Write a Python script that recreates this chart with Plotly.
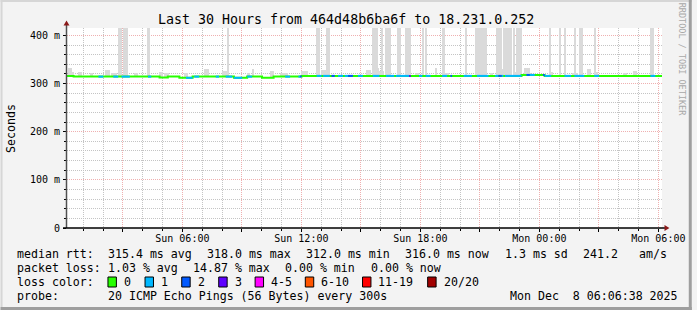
import plotly.graph_objects as go
import pandas as pd

# ---------------- data ----------------
N_POINTS = 360                      # 30 h at 300 s steps
STEP_S = 300
START = pd.Timestamp("2025-12-07 00:11:00")
END = START + pd.Timedelta(hours=30)

# median rtt in ms: (first sample index, value)
median_runs = [(0, 316.0), (4, 314.5), (56, 312.5), (61, 314.5), (68, 312.0),
               (76, 314.5), (101, 312.0), (109, 314.5), (118, 312.0), (125, 314.5),
               (142, 316.0), (275, 318.0), (289, 316.0)]

# lost pings: (first index, last index, lost count)
loss_runs = [(19, 21, 1), (28, 30, 1), (33, 37, 1), (49, 50, 1), (72, 75, 1), (77, 79, 1),
             (90, 91, 1), (96, 99, 1), (101, 105, 1), (109, 111, 1), (132, 134, 1),
             (140, 140, 1), (141, 141, 2), (151, 153, 1), (155, 158, 1), (160, 161, 2),
             (164, 166, 1), (168, 169, 1), (170, 172, 2), (176, 178, 1), (185, 188, 1),
             (193, 197, 1), (199, 206, 1), (207, 207, 3), (213, 214, 1), (217, 219, 1),
             (227, 229, 1), (232, 232, 2), (240, 244, 1), (248, 254, 1), (259, 260, 1),
             (261, 262, 2), (263, 263, 1), (265, 274, 1), (278, 279, 2), (280, 282, 1),
             (288, 288, 2), (289, 292, 1), (301, 304, 1), (307, 309, 1), (310, 312, 1),
             (319, 321, 1), (353, 355, 1)]

# smoke (max ping) in ms: (first index, last index, top)
smoke_runs = [(1, 2, 333), (3, 3, 325), (7, 8, 325), (14, 15, 323), (23, 25, 328),
              (27, 29, 322), (31, 32, 480), (34, 36, 480), (41, 42, 322), (49, 49, 480),
              (56, 57, 325), (59, 61, 323), (71, 72, 322), (83, 85, 330), (94, 96, 327),
              (97, 97, 480), (109, 110, 322), (112, 112, 330), (123, 124, 327),
              (129, 133, 322), (142, 145, 326), (151, 152, 480), (154, 156, 328),
              (157, 158, 480), (181, 183, 328), (185, 187, 480), (188, 188, 332),
              (189, 189, 326), (190, 190, 480), (191, 191, 326), (193, 195, 480),
              (200, 201, 480), (205, 207, 480), (211, 212, 322), (215, 215, 480),
              (217, 217, 480), (223, 223, 332), (227, 228, 480), (229, 230, 322),
              (241, 241, 480), (247, 253, 480), (256, 257, 322), (260, 262, 480),
              (263, 263, 330), (264, 268, 480), (270, 270, 480), (271, 271, 325),
              (272, 274, 480), (277, 279, 332), (280, 280, 322), (292, 292, 480),
              (293, 293, 325), (298, 298, 480), (301, 301, 480), (306, 306, 323),
              (307, 307, 480), (308, 308, 323), (310, 311, 480), (315, 316, 330),
              (319, 319, 480), (320, 320, 325), (337, 338, 322), (343, 344, 327),
              (353, 354, 480)]

loss_labels = ["0", "1", "2", "3", "4-5", "6-10", "11-19", "20/20"]
loss_colors = ["#26ff00", "#00b8ff", "#0059ff", "#5e00ff", "#ff00ff", "#ff5500", "#ff0000", "#a10000"]

y_tick_vals = [0, 100, 200, 300, 400]
y_tick_text = ["0", "100 m", "200 m", "300 m", "400 m"]

title_text = "Last 30 Hours from 464d48b6ba6f to 18.231.0.252"
row_median = [("median rtt:", 16), ("315.4 ms avg", 107.3), ("318.0 ms max", 207.3),
              ("312.0 ms min", 307.3), ("316.0 ms now", 407.3), ("1.3 ms sd", 507.3),
              ("241.2", 586.7), ("am/s", 642.3)]
row_loss = [("packet loss:", 16), ("1.03 % avg", 107.3), ("14.87 % max", 193.3),
            ("0.00 % min", 285.6), ("0.00 % now", 372.3)]
row_probe = [("probe:", 16), ("20 ICMP Echo Pings (56 Bytes) every 300s", 107.3),
             ("Mon Dec  8 06:06:38 2025", 512.7)]
legend_box_x = [108.3, 145.7, 182.7, 220.0, 256.7, 307.3, 365.0, 430.7]

# ---------------- expand runs to per-sample arrays ----------------
times = [START + pd.Timedelta(seconds=STEP_S * i) for i in range(N_POINTS + 1)]
median = [None] * N_POINTS
bounds = [r[0] for r in median_runs] + [N_POINTS]
for k, (s, v) in enumerate(median_runs):
    for i in range(s, bounds[k + 1]):
        median[i] = v
loss = [0] * N_POINTS
for a, b, c in loss_runs:
    for i in range(a, b + 1):
        loss[i] = c
smoke_top = [None] * N_POINTS
for a, b, t in smoke_runs:
    for i in range(a, b + 1):
        smoke_top[i] = t


def loss_class(c):
    if c <= 3:
        return c
    if c <= 5:
        return 4
    if c <= 10:
        return 5
    if c <= 19:
        return 6
    return 7


# ---------------- geometry helpers ----------------
W, H = 697, 310
ML, MR, MT, MB = 67, 30, 28, 82
PW, PH = W - ML - MR, H - MT - MB


def fx(p):
    return (p - ML) / PW


def fy(p):
    return (MT + PH - p) / PH


MONO = "DejaVu Sans Mono"

fig = go.Figure()

# smoke
idx_s = [i for i in range(N_POINTS) if smoke_top[i] is not None]
fig.add_trace(go.Bar(x=[times[i] for i in idx_s],
                     y=[smoke_top[i] - median[i] for i in idx_s],
                     base=[median[i] for i in idx_s],
                     width=STEP_S * 1000, offset=0,
                     marker=dict(color="#dadada", line=dict(width=0)),
                     hoverinfo="skip", showlegend=False))

# median line (green base)
fig.add_trace(go.Scatter(x=times, y=median + [median[-1]], mode="lines",
                         line=dict(color=loss_colors[0], width=2, shape="hv"),
                         hoverinfo="skip", showlegend=False))

# loss-coloured segments of the median line
seg_x = {k: [] for k in range(1, 8)}
seg_y = {k: [] for k in range(1, 8)}
i = 0
while i < N_POINTS:
    if loss[i] > 0:
        cls = loss_class(loss[i])
        j = i
        while j + 1 < N_POINTS and loss[j + 1] > 0 and loss_class(loss[j + 1]) == cls:
            j += 1
        seg_x[cls] += times[i:j + 2] + [None]
        seg_y[cls] += median[i:j + 1] + [median[j], None]
        i = j + 1
    else:
        i += 1
for cls in range(1, 8):
    if seg_x[cls]:
        fig.add_trace(go.Scatter(x=seg_x[cls], y=seg_y[cls], mode="lines",
                                 line=dict(color=loss_colors[cls], width=2, shape="hv"),
                                 connectgaps=False, hoverinfo="skip", showlegend=False))

x_ticks = list(pd.date_range("2025-12-07 03:00", "2025-12-08 06:00", freq="3h"))
x_text = [t.strftime("%a %H:%M") if t.hour % 6 == 0 else "" for t in x_ticks]

fig.update_layout(
    width=W, height=H, autosize=False,
    margin=dict(l=ML, r=MR, t=MT, b=MB, pad=0),
    paper_bgcolor="#f3f3f3", plot_bgcolor="#ffffff",
    barmode="overlay", bargap=0, showlegend=False,
    font=dict(family=MONO, color="#000000"),
    xaxis=dict(type="date", range=[START, END], tickmode="array", tickvals=x_ticks,
               ticktext=x_text, showgrid=True, gridcolor="#efb0b0", griddash="1px,1px",
               gridwidth=1, ticks="outside", ticklen=3, tickcolor="#000000",
               tickfont=dict(family=MONO, size=10, color="#000000"),
               ticklabelstandoff=-2,
               showline=False, zeroline=False, fixedrange=True,
               minor=dict(dtick=3600000, tick0="2025-12-07 00:00", showgrid=True,
                          gridcolor="#c4c4c4", griddash="1px,1px", ticks="outside",
                          ticklen=2, tickcolor="#000000")),
    yaxis=dict(range=[0, 415.5], tickmode="array", tickvals=y_tick_vals,
               ticktext=y_tick_text, showgrid=True, gridcolor="#efb0b0",
               griddash="1px,1px", ticks="outside", ticklen=3, tickcolor="#000000",
               tickfont=dict(family=MONO, size=10, color="#000000"),
               showline=False, zeroline=False, fixedrange=True, ticklabelstandoff=1,
               minor=dict(dtick=20, showgrid=True, gridcolor="#c4c4c4",
                          griddash="1px,1px", ticks="outside", ticklen=2,
                          tickcolor="#000000")),
)

shapes = []
# axis lines + arrows
shapes.append(dict(type="line", xref="paper", yref="paper", x0=fx(66.5), x1=fx(66.5),
                   y0=fy(228), y1=fy(24), line=dict(color="#505050", width=1.5)))
shapes.append(dict(type="line", xref="paper", yref="paper", x0=fx(63), x1=fx(670),
                   y0=fy(228), y1=fy(228), line=dict(color="#000000", width=1.5)))
shapes.append(dict(type="path", xref="paper", yref="paper",
                   path=f"M {fx(66.5)},{fy(20.5)} L {fx(63.5)},{fy(25.5)} L {fx(69.5)},{fy(25.5)} Z",
                   fillcolor="#8b1a1a", line=dict(width=0)))
shapes.append(dict(type="path", xref="paper", yref="paper",
                   path=f"M {fx(674.5)},{fy(228)} L {fx(669.5)},{fy(225)} L {fx(669.5)},{fy(231)} Z",
                   fillcolor="#8b1a1a", line=dict(width=0)))
# frame shading
shapes.append(dict(type="rect", xref="paper", yref="paper", x0=fx(0), x1=fx(697),
                   y0=fy(0), y1=fy(2), fillcolor="#d6d6d6", line=dict(width=0), layer="above"))
shapes.append(dict(type="rect", xref="paper", yref="paper", x0=fx(0), x1=fx(2),
                   y0=fy(0), y1=fy(310), fillcolor="#d6d6d6", line=dict(width=0), layer="above"))
shapes.append(dict(type="rect", xref="paper", yref="paper", x0=fx(694), x1=fx(697),
                   y0=fy(0), y1=fy(310), fillcolor="#9e9e9e", line=dict(width=0), layer="above"))
shapes.append(dict(type="rect", xref="paper", yref="paper", x0=fx(0), x1=fx(697),
                   y0=fy(307), y1=fy(310), fillcolor="#9e9e9e", line=dict(width=0), layer="above"))
# loss colour boxes
for bx, col in zip(legend_box_x, loss_colors):
    shapes.append(dict(type="rect", xref="paper", yref="paper", x0=fx(bx), x1=fx(bx + 8.5),
                       y0=fy(287), y1=fy(277), fillcolor=col,
                       line=dict(color="#000000", width=1)))
fig.update_layout(shapes=shapes)

ann = []


def text(t, x, y, size=11.6, anchor="left", angle=0, color="#000000"):
    ann.append(dict(text=t, x=fx(x), y=fy(y), xref="paper", yref="paper",
                    xanchor=anchor, yanchor="middle", showarrow=False, textangle=angle,
                    font=dict(family=MONO, size=size, color=color), borderpad=0))


text(title_text, 348, 19.5, size=13.3, anchor="center")
text("Seconds", 10.5, 128, angle=-90, anchor="center")
text("RRDTOOL / TOBI OETIKER", 687.5, 59, size=8.5, anchor="center", angle=90, color="#a8a8a8")
for t, x in row_median:
    text(t.replace(" ", "\u00a0"), x, 254)
for t, x in row_loss:
    text(t.replace(" ", "\u00a0"), x, 268.3)
text("loss\u00a0color:", 16, 281.7)
for lab, bx in zip(loss_labels, legend_box_x):
    text(lab, bx + 15, 281.7)
for t, x in row_probe:
    text(t.replace(" ", "\u00a0"), x, 296)
fig.update_layout(annotations=ann)

fig.write_html("out.html")
